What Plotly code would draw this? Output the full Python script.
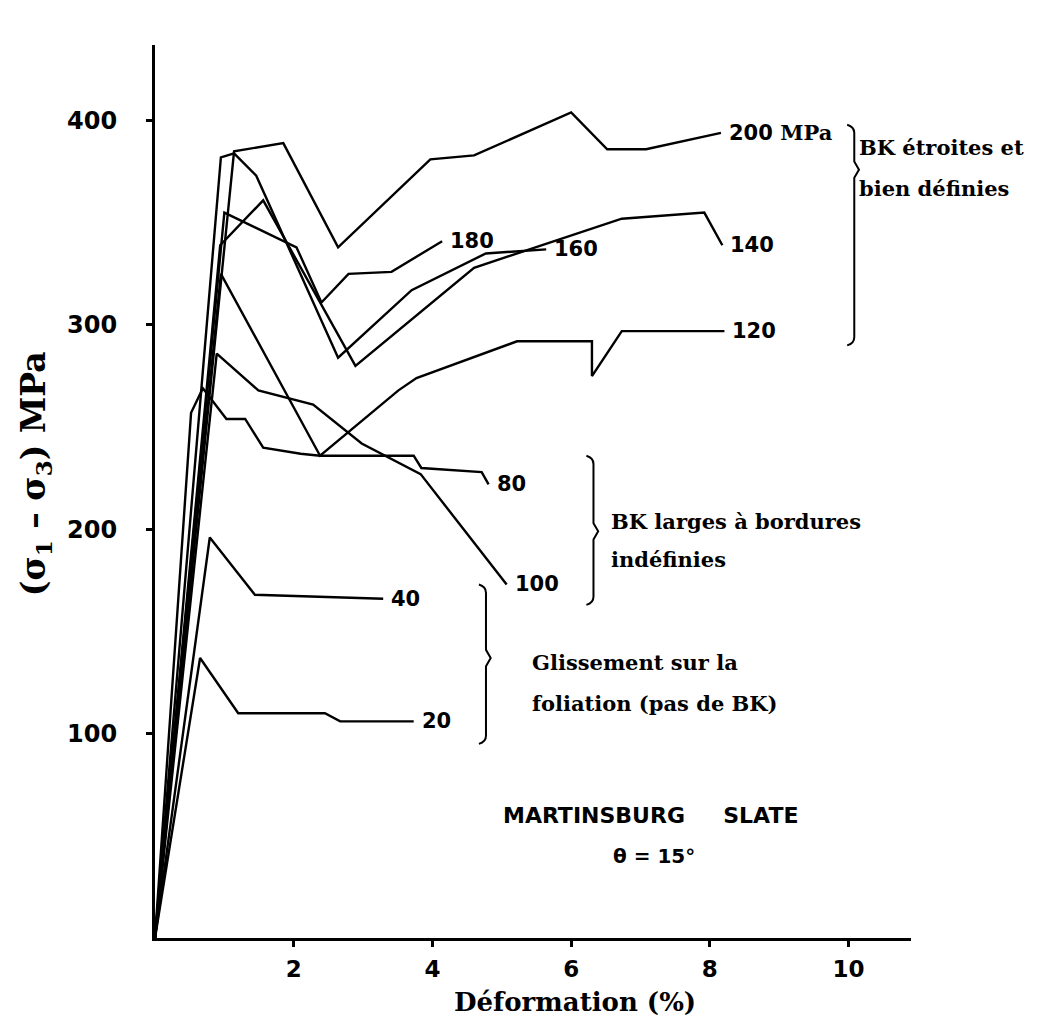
import plotly.graph_objects as go

# ---------------- data ----------------
labels = ["20", "40", "80", "100", "120", "140", "160", "180", "200 MPa"]

x_20 = [0, 0.65, 1.20, 2.45, 2.67, 3.73]
y_20 = [0, 137, 110, 110, 106, 106]

x_40 = [0, 0.79, 1.44, 3.29]
y_40 = [0, 196, 168, 166]

x_80 = [0, 0.52, 0.69, 1.03, 1.30, 1.56, 2.10, 2.38, 3.73, 3.84, 4.71, 4.81]
y_80 = [0, 257, 269, 254, 254, 240, 237, 236, 236, 230, 228, 222]

x_100 = [0, 0.89, 1.49, 1.92, 2.28, 2.98, 3.83, 5.07]
y_100 = [0, 286, 268, 264, 261, 242, 227, 173]

x_120 = [0, 0.95, 2.38, 3.51, 3.77, 5.22, 6.30, 6.30, 6.73, 8.21]
y_120 = [0, 325, 236, 268, 274, 292, 292, 275, 297, 297]

x_140 = [0, 0.94, 1.56, 2.89, 4.60, 6.73, 7.92, 8.18]
y_140 = [0, 339, 361, 280, 328, 352, 355, 339]

x_160 = [0, 0.95, 1.14, 1.46, 2.64, 3.70, 4.77, 5.64]
y_160 = [0, 382, 384, 373, 284, 317, 335, 337]

x_180 = [0, 1.00, 2.04, 2.40, 2.79, 3.41, 4.14]
y_180 = [0, 355, 338, 311, 325, 326, 341]

x_200 = [0, 1.14, 1.85, 2.64, 3.97, 4.60, 6.00, 6.52, 7.08, 8.16]
y_200 = [0, 385, 389, 338, 381, 383, 404, 386, 386, 394]

xs = [x_20, x_40, x_80, x_100, x_120, x_140, x_160, x_180, x_200]
ys = [y_20, y_40, y_80, y_100, y_120, y_140, y_160, y_180, y_200]

x_ticks = [2, 4, 6, 8, 10]
y_ticks = [100, 200, 300, 400]

groups = [
    ["BK étroites et", "bien définies"],
    ["BK larges à bordures", "indéfinies"],
    ["Glissement sur la", "foliation (pas de BK)"],
]

# ---------------- figure ----------------
SANS = "DejaVu Sans"
SERIF = "DejaVu Serif"

fig = go.Figure()
for xv, yv in zip(xs, ys):
    fig.add_trace(go.Scatter(x=xv, y=yv, mode="lines",
                             line=dict(color="black", width=2.4),
                             hoverinfo="skip", showlegend=False))

ann = []
# curve end labels
for lab, xv, yv in zip(labels, xs, ys):
    if "MPa" in lab:
        num, unit = lab.split(" ")
        txt = f'{num} <span style="font-family:{SERIF}; font-size:21px">{unit}</span>'
    else:
        txt = lab
    ann.append(dict(x=xv[-1], y=yv[-1], xref="x", yref="y", text=txt,
                    showarrow=False, xanchor="left", yanchor="middle", xshift=6,
                    font=dict(family=SANS, size=21, color="black", weight="bold")))

# group descriptions (left x in data units, y of first line, line step)
group_pos = [(10.12, 387, 20), (6.55, 204, 19), (5.40, 135, 20)]
for lines, (gx, gy, step) in zip(groups, group_pos):
    for i, line in enumerate(lines):
        ann.append(dict(x=gx, y=gy - i * step, xref="x", yref="y", text=line,
                        showarrow=False, xanchor="left", yanchor="middle",
                        font=dict(family=SERIF, size=21, color="black", weight="bold")))

# title block
ann.append(dict(x=7.15, y=60, xref="x", yref="y",
                text="MARTINSBURG&nbsp;&nbsp;&nbsp;&nbsp;&nbsp;SLATE", showarrow=False,
                font=dict(family=SANS, size=22, color="black", weight="bold")))
ann.append(dict(x=7.2, y=40, xref="x", yref="y", text="θ = 15°", showarrow=False,
                font=dict(family=SANS, size=20, color="black", weight="bold")))

# axis titles
ann.append(dict(x=6.05, y=-0.072, xref="x", yref="paper", text="Déformation (%)",
                showarrow=False, yanchor="middle",
                font=dict(family=SERIF, size=26, color="black", weight="bold")))
ann.append(dict(x=-0.158, y=0.52, xref="paper", yref="paper",
                text="(σ<sub>1</sub> – σ<sub>3</sub>) MPa", textangle=-90,
                showarrow=False, xanchor="center", yanchor="middle",
                font=dict(family=SERIF, size=33, color="black", weight="bold")))

# curly braces (x, y_top, y_tip, y_bottom, width)
braces = [(9.98, 398, 376, 290, 0.17), (6.22, 236, 199, 163, 0.17), (4.67, 173, 137, 95, 0.17)]
shapes = []
for bx, yt, ym, yb, w in braces:
    h = 4
    path = (f"M {bx},{yt} Q {bx+w*0.6},{yt-1} {bx+w*0.6},{yt-h} "
            f"L {bx+w*0.6},{ym+h} L {bx+w},{ym} L {bx+w*0.6},{ym-h} "
            f"L {bx+w*0.6},{yb+h} Q {bx+w*0.6},{yb+1} {bx},{yb}")
    shapes.append(dict(type="path", path=path, xref="x", yref="y",
                       line=dict(color="black", width=2)))

fig.update_layout(
    width=1059, height=1022,
    margin=dict(l=155, r=148, t=45, b=84),
    paper_bgcolor="white", plot_bgcolor="white",
    annotations=ann, shapes=shapes,
    xaxis=dict(range=[0, 10.9], tickvals=x_ticks, ticktext=[str(v) for v in x_ticks],
               showline=True, linecolor="black", linewidth=3, showgrid=False,
               zeroline=False, ticks="outside", ticklen=6, tickwidth=2.5,
               tickcolor="black", ticklabelstandoff=2,
               tickfont=dict(family=SANS, size=23, color="black", weight="bold")),
    yaxis=dict(range=[0, 437], tickvals=y_ticks, ticktext=[str(v) for v in y_ticks],
               showline=True, linecolor="black", linewidth=3, showgrid=False,
               zeroline=False, ticks="outside", ticklen=6, tickwidth=2.5,
               tickcolor="black", ticklabelstandoff=24,
               tickfont=dict(family=SANS, size=24, color="black", weight="bold")),
)

fig.write_html("out.html")
